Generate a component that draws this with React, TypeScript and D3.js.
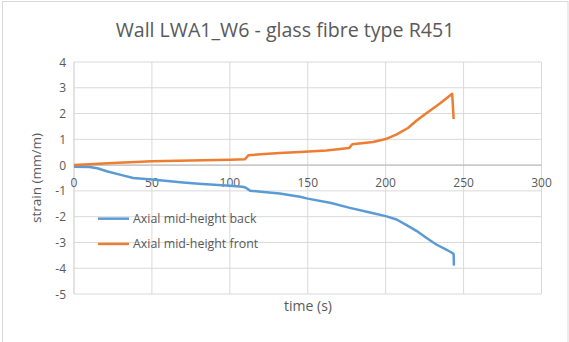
import React from "react";
import * as d3 from "d3";

const title = "Wall LWA1_W6 - glass fibre type R451";
const xLabel = "time (s)";
const yLabel = "strain (mm/m)";
const xTicks = [0, 50, 100, 150, 200, 250, 300];
const yTicks = [4, 3, 2, 1, 0, -1, -2, -3, -4, -5];

const seriesNames = ["Axial mid-height back", "Axial mid-height front"];
const seriesColors = ["#5B9BD5", "#ED7D31"];

const backT = [0, 10, 15, 21, 30, 38, 50, 60, 70, 80, 90, 100, 108, 110, 113, 120, 132, 145, 150, 165, 177, 190, 200, 207, 214, 220, 226, 232.5, 238, 242, 243.6, 243.8];
const backV = [-0.06, -0.07, -0.12, -0.24, -0.38, -0.5, -0.56, -0.62, -0.67, -0.72, -0.76, -0.8, -0.84, -0.87, -0.99, -1.03, -1.1, -1.23, -1.3, -1.47, -1.66, -1.84, -1.98, -2.11, -2.35, -2.56, -2.82, -3.08, -3.25, -3.38, -3.45, -3.9];

const frontT = [0, 10, 25, 50, 75, 100, 109.8, 111.9, 120, 132, 145, 162, 176.5, 178.6, 191.9, 200, 206.8, 214.3, 219.7, 225, 234.6, 242.7, 243.6];
const frontV = [0, 0.03, 0.08, 0.15, 0.18, 0.21, 0.23, 0.38, 0.42, 0.47, 0.51, 0.57, 0.66, 0.81, 0.9, 1.01, 1.18, 1.44, 1.72, 1.96, 2.38, 2.77, 1.79];

const W = 569;
const H = 342;
const plot = { left: 74, right: 541.5, top: 62, bottom: 294 };

export default function App() {
  const x = d3.scaleLinear().domain([0, 300]).range([plot.left, plot.right]);
  const y = d3.scaleLinear().domain([-5, 4]).range([plot.bottom, plot.top]);
  const line = d3
    .line<[number, number]>()
    .x((d) => x(d[0]))
    .y((d) => y(d[1]));
  const back: [number, number][] = backT.map((t, i) => [t, backV[i]]);
  const front: [number, number][] = frontT.map((t, i) => [t, frontV[i]]);
  const font = "'Open Sans', 'Liberation Sans', sans-serif";
  const grey = "#595959";
  const legendY = [y(-2) + 2, y(-3) + 1.5];

  return (
    <svg
      width={W}
      height={H}
      style={{ position: "absolute", left: 0, top: 0, background: "#fff" }}
      fontFamily={font}
    >
      <rect x={2.5} y={1.5} width={565.5} height={345} fill="#fff" stroke="#d9d9d9" strokeWidth={1} />
      <text x={285} y={37} textAnchor="middle" fontSize={19.6} fill={grey}>
        {title}
      </text>
      {yTicks.map((v) => (
        <line key={"gy" + v} x1={plot.left} x2={plot.right} y1={y(v)} y2={y(v)} stroke="#d9d9d9" strokeWidth={1} />
      ))}
      {xTicks.map((v) => (
        <line key={"gx" + v} x1={x(v)} x2={x(v)} y1={plot.top} y2={plot.bottom} stroke="#d9d9d9" strokeWidth={1} />
      ))}
      <line x1={plot.left} x2={plot.right} y1={y(0)} y2={y(0)} stroke="#bfbfbf" strokeWidth={1.2} />
      <line x1={plot.left} x2={plot.left} y1={plot.top} y2={plot.bottom} stroke="#d9d9d9" strokeWidth={1} />
      {yTicks.map((v) => (
        <text key={"ty" + v} x={plot.left - 8} y={y(v) + 4.5} textAnchor="end" fontSize={12} fill={grey}>
          {v}
        </text>
      ))}
      {xTicks.map((v) => (
        <text key={"tx" + v} x={x(v)} y={y(0) + 22} textAnchor="middle" fontSize={12} fill={grey}>
          {v}
        </text>
      ))}
      <text x={308} y={311} textAnchor="middle" fontSize={14} fill={grey}>
        {xLabel}
      </text>
      <text
        transform={`translate(${41},${(plot.top + plot.bottom) / 2}) rotate(-90)`}
        textAnchor="middle"
        fontSize={13.5}
        fill={grey}
      >
        {yLabel}
      </text>
      <path d={line(back) || ""} fill="none" stroke={seriesColors[0]} strokeWidth={2.5} strokeLinejoin="round" />
      <path d={line(front) || ""} fill="none" stroke={seriesColors[1]} strokeWidth={2.5} strokeLinejoin="round" />
      {seriesNames.map((n, i) => (
        <g key={n}>
          <line x1={98} x2={129} y1={legendY[i]} y2={legendY[i]} stroke={seriesColors[i]} strokeWidth={2.5} />
          <text x={133} y={legendY[i] + 4.5} fontSize={12.4} fill={grey}>
            {n}
          </text>
        </g>
      ))}
    </svg>
  );
}
